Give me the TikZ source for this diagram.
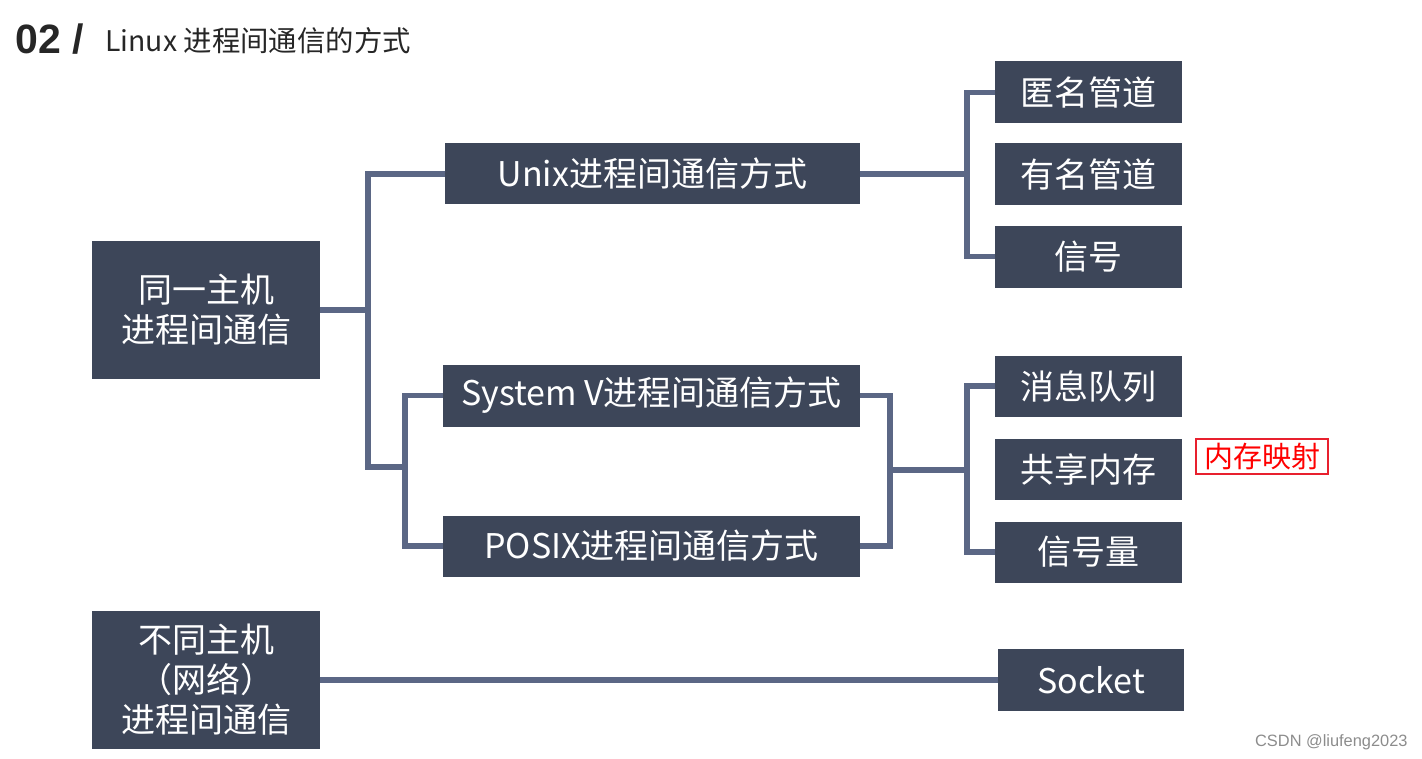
\documentclass[tikz,border=0pt]{standalone}
\usepackage{fontspec}
\setmainfont{Noto Sans CJK SC}
\newfontfamily\arialfont{Liberation Sans}
\usepackage{tikz}
\definecolor{boxfill}{HTML}{3D4659}
\definecolor{linkcol}{HTML}{5B6785}
\definecolor{markred}{HTML}{E8202E}
\tikzset{
  box/.style={rectangle, fill=boxfill, text=white, inner sep=0pt, align=center,
    font=\fontsize{17}{20}\selectfont},
  link/.style={draw=linkcol, line width=2.8pt},
}

\begin{document}
\begin{tikzpicture}[x=0.5pt, y=-0.5pt]
  \useasboundingbox (0,0) rectangle (1422,759);
  \node (num) [anchor=base west, inner sep=0pt, font=\arialfont\bfseries\fontsize{20.5}{24}\selectfont, text=black!85] at (15,54) {02 /};
  \node (title) [anchor=base west, inner sep=0pt, font=\fontsize{14.2}{17}\selectfont, text=black!85] at (105,52) {Linux 进程间通信的方式};
  \node (same) [box, minimum width=114pt, minimum height=69pt] at (206,310) {同一主机\\进程间通信};
  \node (diff) [box, minimum width=114pt, minimum height=69pt] at (206,680) {不同主机\\（网络）\\进程间通信};
  \node (unix) [box, minimum width=207.5pt, minimum height=30.5pt] at (652.5,174) {Unix进程间通信方式};
  \node (sysv) [box, minimum width=208.5pt, minimum height=31pt] at (651.5,395.5) {System V进程间通信方式};
  \node (posix) [box, minimum width=208.5pt, minimum height=30.5pt] at (651.5,546) {POSIX进程间通信方式};
  \node (anon) [box, minimum width=93.5pt, minimum height=31pt] at (1088.5,92.5) {匿名管道};
  \node (fifo) [box, minimum width=93.5pt, minimum height=31pt] at (1088.5,174.5) {有名管道};
  \node (sig) [box, minimum width=93.5pt, minimum height=31pt] at (1088.5,256.5) {信号};
  \node (msgq) [box, minimum width=93.5pt, minimum height=30.5pt] at (1088.5,386) {消息队列};
  \node (shm) [box, minimum width=93.5pt, minimum height=30.5pt] at (1088.5,469) {共享内存};
  \node (sem) [box, minimum width=93.5pt, minimum height=30.5pt] at (1088.5,552) {信号量};
  \node (sock) [box, minimum width=93pt, minimum height=31pt] at (1091,680) {Socket};
  \node (mmap) [draw=markred, line width=1.4pt, text=red, inner sep=0pt, minimum width=66pt, minimum height=17.5pt,
    font=\fontsize{14.5}{16}\selectfont] at (1262,456.5) {内存映射};
  \node (mark) [anchor=base east, inner sep=0pt, text=black!45, font=\arialfont\fontsize{8.2}{10}\selectfont] at (1408,746) {CSDN @liufeng2023};
  \coordinate (ja) at (368,310);
  \coordinate (jb) at (368,467);
  \coordinate (jc) at (405,467);
  \coordinate (jd) at (890,470);
  \coordinate (je) at (967,470);
  \coordinate (jf) at (967,174);
  \draw[link] (same.east) -- (ja);
  \draw[link] (unix.west) -| (jb) -- (jc);
  \draw[link] (sysv.west) -| (jc) |- (posix.west);
  \draw[link] (sysv.east) -| (jd) |- (posix.east);
  \draw[link] (jd) -- (je);
  \draw[link] (msgq.west) -| (je) |- (sem.west);
  \draw[link] (unix.east) -- (jf);
  \draw[link] (anon.west) -| (jf) |- (sig.west);
  \draw[link] (diff.east) -- (sock.west);
\end{tikzpicture}
\end{document}
